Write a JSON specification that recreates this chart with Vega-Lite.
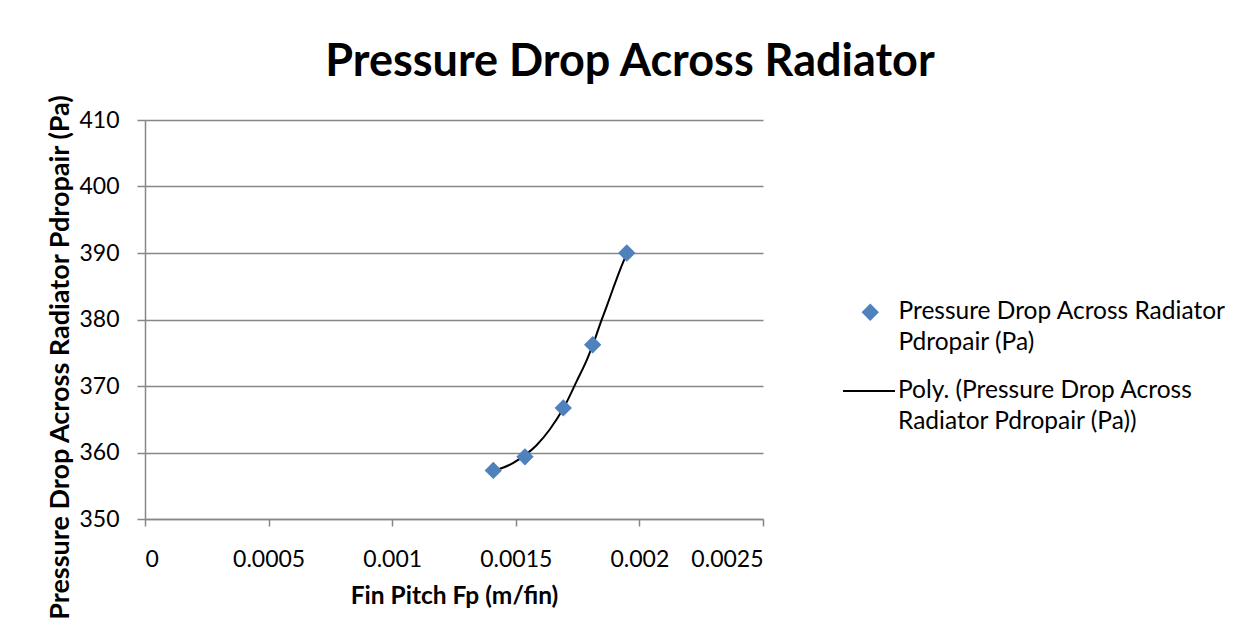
{
  "$schema": "https://vega.github.io/schema/vega-lite/v6.json",
  "autosize": {"type": "none"},
  "width": 618,
  "height": 399,
  "padding": {"left": 145, "top": 120, "right": 480, "bottom": 118},
  "background": "white",
  "config": {
    "font": "Lato",
    "view": {"stroke": null},
    "axis": {"labelFont": "Lato", "titleFont": "Lato", "labelColor": "black", "titleColor": "black"},
    "legend": {"labelFont": "Lato", "labelColor": "black"},
    "style": {"guide-label": {"lineHeight": 31}}
  },
  "title": {
    "text": "Pressure Drop Across Radiator",
    "anchor": "middle",
    "frame": "group",
    "dx": 176,
    "offset": 9,
    "fontSize": 45,
    "font": "Lato",
    "fontWeight": "bold",
    "color": "black"
  },
  "datasets": {
    "obs": [
      {"fp": 0.001409, "dp": 357.3, "s": "Pressure Drop Across Radiator Pdropair (Pa)"},
      {"fp": 0.001537, "dp": 359.35, "s": "Pressure Drop Across Radiator Pdropair (Pa)"},
      {"fp": 0.001692, "dp": 366.7, "s": "Pressure Drop Across Radiator Pdropair (Pa)"},
      {"fp": 0.001811, "dp": 376.2, "s": "Pressure Drop Across Radiator Pdropair (Pa)"},
      {"fp": 0.001949, "dp": 390.0, "s": "Pressure Drop Across Radiator Pdropair (Pa)"}
    ],
    "trend": [
      {"fp": 0.001409, "dp": 357.24, "t": "Poly. (Pressure Drop Across Radiator Pdropair (Pa))"},
      {"fp": 0.001450, "dp": 357.74, "t": "Poly. (Pressure Drop Across Radiator Pdropair (Pa))"},
      {"fp": 0.001490, "dp": 358.44, "t": "Poly. (Pressure Drop Across Radiator Pdropair (Pa))"},
      {"fp": 0.001537, "dp": 359.6, "t": "Poly. (Pressure Drop Across Radiator Pdropair (Pa))"},
      {"fp": 0.001584, "dp": 361.1, "t": "Poly. (Pressure Drop Across Radiator Pdropair (Pa))"},
      {"fp": 0.001638, "dp": 363.5, "t": "Poly. (Pressure Drop Across Radiator Pdropair (Pa))"},
      {"fp": 0.001692, "dp": 366.6, "t": "Poly. (Pressure Drop Across Radiator Pdropair (Pa))"},
      {"fp": 0.001746, "dp": 370.7, "t": "Poly. (Pressure Drop Across Radiator Pdropair (Pa))"},
      {"fp": 0.001787, "dp": 373.9, "t": "Poly. (Pressure Drop Across Radiator Pdropair (Pa))"},
      {"fp": 0.001814, "dp": 376.4, "t": "Poly. (Pressure Drop Across Radiator Pdropair (Pa))"},
      {"fp": 0.001840, "dp": 379.2, "t": "Poly. (Pressure Drop Across Radiator Pdropair (Pa))"},
      {"fp": 0.001868, "dp": 382.0, "t": "Poly. (Pressure Drop Across Radiator Pdropair (Pa))"},
      {"fp": 0.001894, "dp": 384.7, "t": "Poly. (Pressure Drop Across Radiator Pdropair (Pa))"},
      {"fp": 0.001921, "dp": 387.4, "t": "Poly. (Pressure Drop Across Radiator Pdropair (Pa))"},
      {"fp": 0.001949, "dp": 389.9, "t": "Poly. (Pressure Drop Across Radiator Pdropair (Pa))"}
    ]
  },
  "encoding": {
    "x": {
      "field": "fp", "type": "quantitative",
      "scale": {"domain": [0, 0.0025], "nice": false, "zero": false},
      "axis": {
        "title": "Fin Pitch Fp (m/fin)",
        "values": [0, 0.0005, 0.001, 0.0015, 0.002, 0.0025],
        "format": "~g",
        "grid": false,
        "domainColor": "#878787", "domainWidth": 1.5,
        "tickColor": "#878787", "tickWidth": 1.5, "tickSize": 7,
        "labelFontSize": 23, "labelPadding": 22,
        "titleFontSize": 24.5, "titleFontWeight": "bold", "titlePadding": 13
      }
    },
    "y": {
      "field": "dp", "type": "quantitative",
      "scale": {"domain": [350, 410], "nice": false, "zero": false},
      "axis": {
        "title": "Pressure Drop Across Radiator Pdropair (Pa)",
        "values": [350, 360, 370, 380, 390, 400, 410],
        "grid": true, "gridColor": "#878787", "gridWidth": 1.5,
        "domainColor": "#878787", "domainWidth": 1.5,
        "tickColor": "#878787", "tickWidth": 1.5, "tickSize": 8,
        "labelFontSize": 23, "labelPadding": 18,
        "titleFontSize": 27, "titleFontWeight": "bold", "titlePadding": 4,
        "titleY": 237
      }
    }
  },
  "layer": [
    {
      "data": {"name": "trend"},
      "mark": {"type": "line", "strokeWidth": 2, "interpolate": "monotone"},
      "encoding": {
        "color": {
          "field": "t", "type": "nominal",
          "scale": {"range": ["black"]},
          "legend": {
            "title": null, "orient": "none", "legendX": 697, "legendY": 244,
            "symbolType": "stroke", "symbolSize": 2700, "symbolStrokeWidth": 2,
            "labelFontSize": 24.5, "labelOffset": 2, "labelLimit": 500, "padding": 0,
            "labelExpr": "['Poly. (Pressure Drop Across', 'Radiator Pdropair (Pa))']"
          }
        }
      }
    },
    {
      "data": {"name": "obs"},
      "mark": {"type": "point", "shape": "diamond", "filled": true, "color": "#4F81BD", "opacity": 1, "size": 300},
      "encoding": {
        "shape": {
          "field": "s", "type": "nominal",
          "scale": {"range": ["diamond"]},
          "legend": {
            "title": null, "orient": "none", "legendX": 713, "legendY": 180,
            "symbolSize": 300, "symbolFillColor": "#4F81BD", "symbolStrokeColor": "#4F81BD", "symbolOpacity": 1,
            "labelFontSize": 24.5, "labelOffset": 16, "labelLimit": 500, "padding": 0,
            "labelExpr": "['Pressure Drop Across Radiator', 'Pdropair (Pa)']"
          }
        }
      }
    }
  ]
}
